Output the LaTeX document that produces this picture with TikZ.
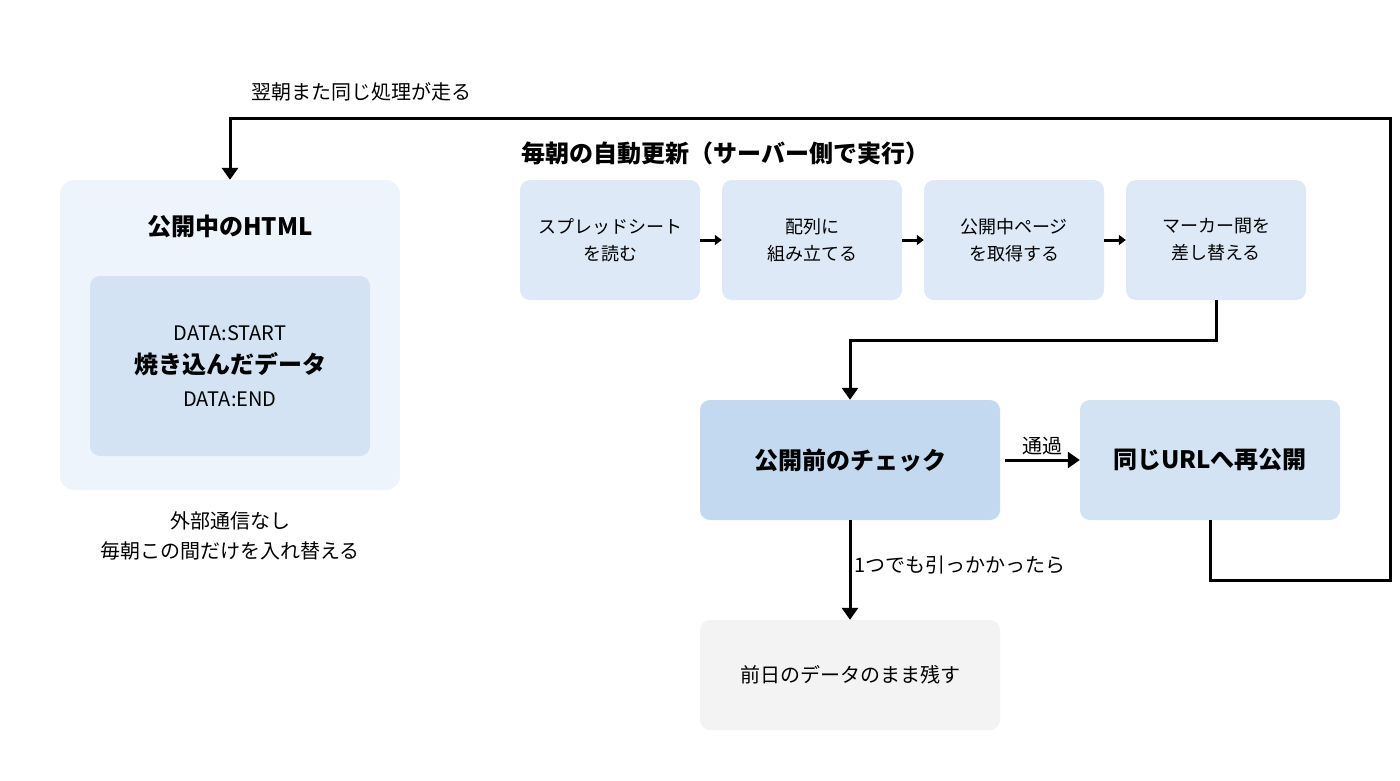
\documentclass[tikz,border=0pt]{standalone}
\usepackage{fontspec}
\setmainfont{Noto Sans CJK JP}
\usetikzlibrary{arrows.meta,positioning}
\definecolor{panel}{HTML}{EEF4FB}
\definecolor{inner}{HTML}{D3E3F3}
\definecolor{stepfill}{HTML}{DDE9F6}
\definecolor{checkfill}{HTML}{C3D9EF}
\definecolor{restfill}{HTML}{F3F3F3}
\begin{document}
\begin{tikzpicture}[x=1pt,y=-1pt,
    % ボックスのスタイル
    stepbox/.style={fill=stepfill,rounded corners=10pt,minimum width=180pt,minimum height=120pt,
        align=center,font=\fontsize{18}{27}\selectfont},
    bigbox/.style={rounded corners=10pt,minimum height=120pt,align=center,
        font=\fontsize{24}{30}\selectfont\bfseries},
    % 線のスタイル
    flow/.style={line width=3pt,-{Triangle[length=12pt,width=16pt]}},
    small/.style={line width=3pt,-{Triangle[length=7pt,width=10pt]}},
    txt/.style={font=\fontsize{20}{30}\selectfont}
]
\useasboundingbox (0,0) rectangle (1400,780);

% 左側
\node[fill=panel,rounded corners=14pt,minimum width=340pt,minimum height=310pt] (html) at (230,335) {};
\node[font=\fontsize{24}{30}\selectfont\bfseries] (htmltitle) at (230,226) {公開中のHTML};
\node[fill=inner,rounded corners=10pt,minimum width=280pt,minimum height=180pt,align=center,
    font=\fontsize{20}{33}\selectfont] (data) at (230,366)
    {DATA:START\\{\fontsize{24}{33}\selectfont\bfseries 焼き込んだデータ}\\DATA:END};
\node[txt,align=center,below=18pt of html] (note) {外部通信なし\\毎朝この間だけを入れ替える};

% 右側
\node[font=\fontsize{24}{30}\selectfont\bfseries,anchor=west] (sect) at (518,153) {毎朝の自動更新（サーバー側で実行）};
\node[stepbox] (s1) at (610,240) {スプレッドシート\\を読む};
\node[stepbox] (s2) at (812,240) {配列に\\組み立てる};
\node[stepbox] (s3) at (1014,240) {公開中ページ\\を取得する};
\node[stepbox] (s4) at (1216,240) {マーカー間を\\差し替える};
\foreach \a/\b in {s1/s2,s2/s3,s3/s4}
    \draw[small] (\a) -- (\b);

\node[bigbox,fill=checkfill,minimum width=300pt] (check) at (850,460) {公開前のチェック};
\node[bigbox,fill=inner,minimum width=260pt] (pub) at (1210,460) {同じURLへ再公開};
\node[fill=restfill,rounded corners=10pt,minimum width=300pt,minimum height=110pt,txt] (keep) at (850,675) {前日のデータのまま残す};

\draw[flow] (s4.south) |- (850,340) -- (check.north);
\draw[flow] (check.east) ++(5,0) coordinate (ce) -- node[above,txt] {通過} (pub.west);
\draw[flow] (check.south) -- node[right,txt,pos=0.45] {1つでも引っかかったら} (keep.north);

% 翌朝のループ
\coordinate (c1) at (1210,580);
\coordinate (c2) at (1390,580);
\coordinate (c3) at (1390,118);
\coordinate (c4) at (230,118);
\draw[flow] (pub.south) -- (c1) -- (c2) -- (c3) -- (c4) -- (html.north);
\node[txt,anchor=west] (loop) at (248,92) {翌朝また同じ処理が走る};
\end{tikzpicture}
\end{document}
